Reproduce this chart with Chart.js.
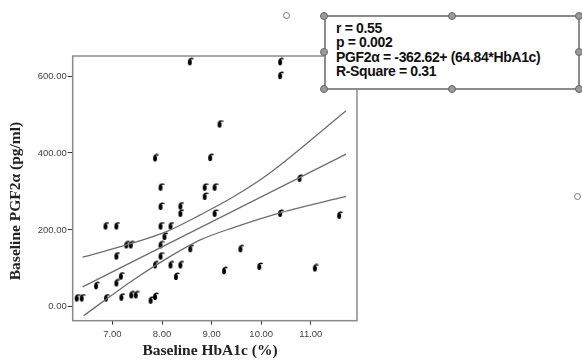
<!DOCTYPE html>
<html>
<head>
<meta charset="utf-8">
<script src="https://cdn.jsdelivr.net/npm/chart.js@4.4.1/dist/chart.umd.min.js"></script>
<style>
  html, body { margin: 0; padding: 0; background: #fff; }
  #wrap { position: relative; width: 582px; height: 361px; overflow: hidden; }
  #chart { position: absolute; left: 0; top: 0; }
  #stats {
    position: absolute; left: 324px; top: 15px; width: 256px; height: 75px;
    box-sizing: border-box; border: 2px solid #8c8c8c; background: #fff;
    padding: 4px 0 0 10px;
    font: bold 14px "Liberation Sans", Arial, sans-serif; line-height: 14.3px;
    color: #111; letter-spacing: -0.35px; white-space: nowrap;
  }
  .handle {
    position: absolute; width: 6px; height: 6px; margin: -4px 0 0 -4px;
    border-radius: 50%; background: #9a9a9a; border: 1px solid #666;
  }
  .ring {
    position: absolute; width: 5px; height: 5px; margin: -4px 0 0 -4px;
    border-radius: 50%; background: #fff; border: 1.3px solid #777;
  }
</style>
</head>
<body>
<div id="wrap">
  <canvas id="chart" width="582" height="361"></canvas>
  <div id="stats">
    <div>r = 0.55</div>
    <div>p = 0.002</div>
    <div>PGF2α = -362.62+ (64.84*HbA1c)</div>
    <div>R-Square = 0.31</div>
  </div>
  <div class="handle" style="left:324px;top:16px"></div>
  <div class="handle" style="left:452px;top:16px"></div>
  <div class="handle" style="left:579px;top:16px"></div>
  <div class="handle" style="left:324px;top:52px"></div>
  <div class="handle" style="left:579px;top:52px"></div>
  <div class="handle" style="left:324px;top:89px"></div>
  <div class="handle" style="left:452px;top:89px"></div>
  <div class="handle" style="left:579px;top:89px"></div>
  <div class="ring" style="left:287px;top:16px"></div>
  <div class="ring" style="left:578px;top:197px"></div>
</div>
<script>
// ── data ──

const X_TICKS = [7, 8, 9, 10, 11];
const Y_TICKS = [0, 200, 400, 600];

const HBA1C = [
  6.29, 6.39, 6.68, 6.87, 6.88, 7.09, 7.09, 7.09, 7.18, 7.19,
  7.29, 7.38, 7.39, 7.48, 7.78, 7.87, 7.87, 7.87, 7.98, 7.98,
  7.98, 7.98, 7.98, 8.06, 8.18, 8.18, 8.29, 8.38, 8.38, 8.38,
  8.57, 8.58, 8.87, 8.87, 8.98, 9.07, 9.07, 9.17, 9.26, 9.59,
  9.97, 10.39, 10.39, 10.39, 10.78, 11.09, 11.58,
];
const PGF2A = [
  23, 23, 55, 210, 23, 210, 132, 62, 80, 25,
  161, 161, 31, 31, 17, 27, 387, 109, 311, 261,
  210, 161, 132, 183, 210, 109, 79, 262, 243, 109,
  637, 151, 311, 287, 388, 311, 243, 475, 94, 151,
  105, 637, 601, 243, 334, 101, 238,
];

// linear fit and its 95% mean bands
const FIT_X = [6.40, 11.71];
const FIT_Y = [52, 397];
const UPPER_X = [6.40, 7.42, 8.10, 8.77, 9.44, 10.11, 11.71];
const UPPER_Y = [129, 166, 196, 239, 286, 342, 510];
const LOWER_X = [6.42, 7.42, 8.10, 8.77, 9.44, 10.40, 11.71];
const LOWER_Y = [-23, 70, 126, 174, 206, 245, 287];

const zip = (xs, ys) => xs.map((x, i) => ({ x, y: ys[i] }));

// SPSS-ish marker glyph
function makeMarker() {
  const c = document.createElement("canvas");
  c.width = 7;
  c.height = 9;
  const g = c.getContext("2d");
  g.fillStyle = "#000";
  g.beginPath();
  g.ellipse(3, 5, 2, 3.1, 0, 0, Math.PI * 2);
  g.fill();
  g.strokeStyle = "#000";
  g.lineWidth = 1.5;
  g.beginPath();
  g.moveTo(2, 3);
  g.quadraticCurveTo(3.5, 0.6, 6.5, 1.6);
  g.stroke();
  return c;
}

const lineStyle = {
  type: "scatter",
  showLine: true,
  borderColor: "#6e6e6e",
  borderWidth: 1.3,
  pointRadius: 0,
  fill: false,
};

// frame + axis titles
const framePlugin = {
  id: "frame",
  afterDraw(chart) {
    const { ctx, chartArea: a } = chart;
    ctx.save();
    ctx.strokeStyle = "#8a8a8a";
    ctx.lineWidth = 1.5;
    ctx.strokeRect(a.left, a.top, a.right - a.left, a.bottom - a.top);

    ctx.fillStyle = "#222";
    ctx.font = "bold 15.5px 'Liberation Serif', 'Times New Roman', serif";
    ctx.textAlign = "center";
    ctx.textBaseline = "middle";
    ctx.fillText("Baseline HbA1c (%)", 210, 351);
    ctx.translate(16, 201);
    ctx.rotate(-Math.PI / 2);
    ctx.fillText("Baseline PGF2α (pg/ml)", 0, 0);
    ctx.restore();
  },
};

const tickFont = { family: "'Liberation Sans', Arial, sans-serif", size: 9.5 };

new Chart(document.getElementById("chart"), {
  type: "scatter",
  data: {
    datasets: [
      { ...lineStyle, data: zip(UPPER_X, UPPER_Y), cubicInterpolationMode: "monotone" },
      { ...lineStyle, data: zip(FIT_X, FIT_Y) },
      { ...lineStyle, data: zip(LOWER_X, LOWER_Y), cubicInterpolationMode: "monotone" },
      {
        type: "scatter",
        data: zip(HBA1C, PGF2A),
        pointStyle: makeMarker(),
        pointRadius: 4,
      },
    ],
  },
  options: {
    responsive: false,
    devicePixelRatio: 1,
    animation: false,
    layout: { padding: { left: 0, top: 56, right: 225, bottom: 0 } },
    plugins: { legend: { display: false }, tooltip: { enabled: false } },
    scales: {
      x: {
        type: "linear",
        min: 6.2,
        max: 11.93,
        afterBuildTicks: (s) => { s.ticks = X_TICKS.map((v) => ({ value: v })); },
        afterFit: (s) => { s.height = 40.3; },
        border: { display: false },
        grid: { drawOnChartArea: false, drawTicks: true, tickLength: 4, color: "#333" },
        ticks: { font: tickFont, color: "#444", padding: 4, maxRotation: 0,
                 callback: (v) => Number(v).toFixed(2) },
      },
      y: {
        type: "linear",
        min: -36,
        max: 652,
        afterBuildTicks: (s) => { s.ticks = Y_TICKS.map((v) => ({ value: v })); },
        afterFit: (s) => { s.width = 72.7; },
        border: { display: false },
        grid: { drawOnChartArea: false, drawTicks: true, tickLength: 5, color: "#333" },
        ticks: { font: tickFont, color: "#444", padding: 1,
                 callback: (v) => Number(v).toFixed(2) },
      },
    },
  },
  plugins: [framePlugin],
});
</script>
</body>
</html>
